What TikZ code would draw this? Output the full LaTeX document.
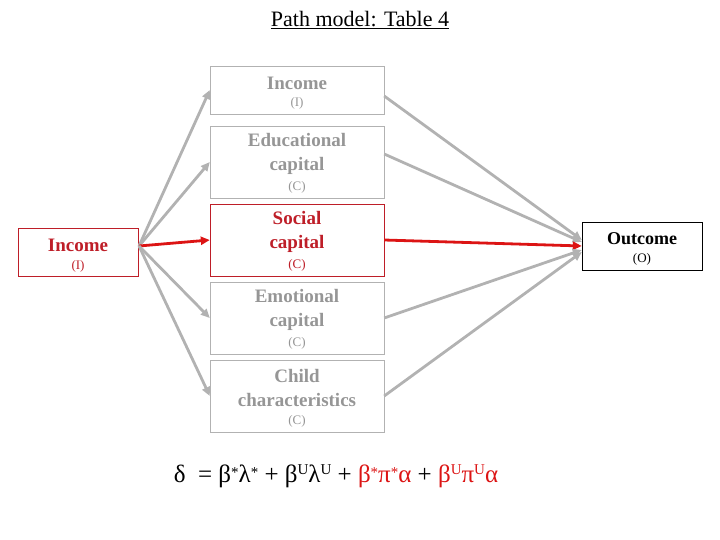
\documentclass[tikz,border=0pt]{standalone}
\usepackage{fontspec}
\setmainfont{Liberation Serif}
\usepackage{tikz}
\usetikzlibrary{calc, arrows.meta}
\definecolor{pathgray}{RGB}{178,178,178}
\definecolor{textgray}{RGB}{150,150,150}
\definecolor{pathred}{RGB}{220,20,20}
\definecolor{boxred}{RGB}{190,30,40}
\begin{document}
\begin{tikzpicture}[
    x = 1pt, y = -1pt,
    box/.style = {draw = pathgray, minimum width = 174pt, inner sep = 0pt,
      align = center, text = textgray, font = \fontsize{19}{24}\selectfont\bfseries},
    sub/.style = {font = \fontsize{13}{14}\selectfont, text = textgray},
    link/.style = {draw = pathgray, line width = 2.8pt,
      -{Triangle[length = 9pt, width = 8pt]}},
    hot/.style = {link, draw = pathred, fill = pathred}
  ]
  \useasboundingbox (0,0) rectangle (720,540);

  % Title
  \node (title) at (360,20) {\fontsize{22}{26}\selectfont\underline{Path model: Table 4}};

  % Mediators
  \node[box, minimum height = 48pt] (inc) at (297,90) {};
  \node[box, minimum height = 72pt] (edu) at (297,162) {};
  \node[box, minimum height = 72pt, draw = boxred] (soc) at (297,240) {};
  \node[box, minimum height = 72pt] (emo) at (297,318) {};
  \node[box, minimum height = 72pt] (chi) at (297,396) {};
  \node[box, draw = none] at (297,83) {Income};
  \node[sub] at (297,103) {(I)};
  \node[box, draw = none] at (297,154) {Educational\\capital};
  \node[sub] at (297,187) {(C)};
  \node[box, draw = none, text = boxred] at (297,232) {Social\\capital};
  \node[sub, text = boxred] at (297,265) {(C)};
  \node[box, draw = none] at (297,310) {Emotional\\capital};
  \node[sub] at (297,343) {(C)};
  \node[box, draw = none] at (297,388) {Child\\characteristics};
  \node[sub] at (297,421) {(C)};

  % Source and outcome
  \node[draw = boxred, minimum width = 120pt, minimum height = 48pt] (src) at (78,252) {};
  \node[text = boxred, font = \fontsize{19}{20}\selectfont\bfseries] at (78,245) {Income};
  \node[sub, text = boxred] at (78,266) {(I)};
  \node[draw, minimum width = 120pt, minimum height = 48pt] (out) at (642,246) {};
  \node[font = \fontsize{18}{20}\selectfont\bfseries] at (642,239) {Outcome};
  \node[sub, text = black] at (642,259) {(O)};

  % Paths from income
  \coordinate (s) at (139,246);
  \draw[link] (s) -- (inc.west);
  \draw[link] (s) -- (edu.west);
  \draw[hot] (s) -- (soc.west);
  \draw[link] (s) -- (emo.west);
  \draw[link] (s) -- (chi.west);

  % Paths to outcome
  \draw[link] ($(inc.east)+(0,6)$) -- ($(out.west)+(0,-6)$);
  \draw[link] ($(edu.east)+(0,-8)$) -- ($(out.west)+(0,-4)$);
  \draw[hot] (soc.east) -- (out.west);
  \draw[link] (emo.east) -- ($(out.west)+(0,4)$);
  \draw[link] (chi.east) -- ($(out.west)+(0,6)$);

  % Formula
  \node (eq) at (336,476) {\fontsize{25}{28}\selectfont
    δ\ \ = β\raisebox{5pt}{\fontsize{15}{15}\selectfont *}λ\raisebox{5pt}{\fontsize{15}{15}\selectfont *}
    + β\raisebox{8pt}{\fontsize{15}{15}\selectfont U}λ\raisebox{8pt}{\fontsize{15}{15}\selectfont U} +
    \color{pathred}β\raisebox{5pt}{\fontsize{15}{15}\selectfont *}π\raisebox{5pt}{\fontsize{15}{15}\selectfont *}α
    \color{black}+ \color{pathred}β\raisebox{8pt}{\fontsize{15}{15}\selectfont U}π\raisebox{8pt}{\fontsize{15}{15}\selectfont U}α};
\end{tikzpicture}
\end{document}
